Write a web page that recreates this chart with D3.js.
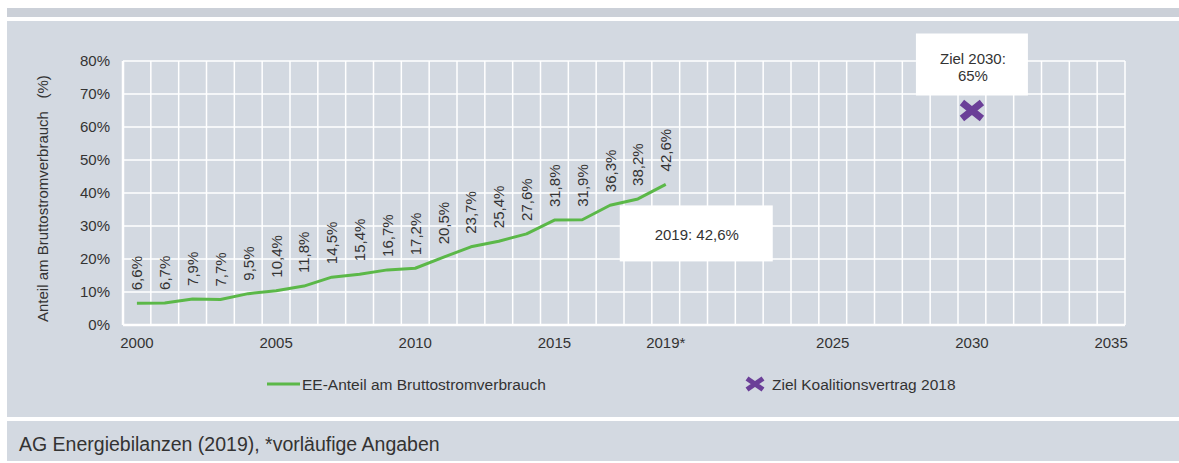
<!DOCTYPE html>
<html lang="de">
<head>
<meta charset="utf-8"/>
<title>EE-Anteil am Bruttostromverbrauch</title>
<script src="https://d3js.org/d3.v7.min.js"></script>
<style>
  body { margin: 0; background: #fff; }
  svg text { font-family: "Liberation Sans", Arial, sans-serif; fill: #333; }
  .axis .domain { display: none; }
  .axis line { display: none; }
</style>
</head>
<body>
<div id="chart"></div>
<script>
// data
var years = d3.range(2000, 2036);
var dataYears = [2000, 2001, 2002, 2003, 2004, 2005, 2006, 2007, 2008, 2009,
                 2010, 2011, 2012, 2013, 2014, 2015, 2016, 2017, 2018, 2019];
var eeShare = [6.6, 6.7, 7.9, 7.7, 9.5, 10.4, 11.8, 14.5, 15.4, 16.7,
               17.2, 20.5, 23.7, 25.4, 27.6, 31.8, 31.9, 36.3, 38.2, 42.6];
var targetYear = 2030, targetValue = 65;
var xTickYears = [2000, 2005, 2010, 2015, 2019, 2025, 2030, 2035];
var xTickLabels = ["2000", "2005", "2010", "2015", "2019*", "2025", "2030", "2035"];
var yTicks = [0, 10, 20, 30, 40, 50, 60, 70, 80];

var width = 1179, height = 463;
var panelBg = "#d3d9e1";
var green = "#5bb848", purple = "#6b3f98";
var fs = 15;

var svg = d3.select("#chart").append("svg")
    .attr("width", width)
    .attr("height", height);

// panels
svg.append("rect").attr("x", 7).attr("y", 8).attr("width", width - 7).attr("height", 9).attr("fill", "#cbd0d8");
svg.append("rect").attr("x", 7).attr("y", 21).attr("width", width - 7).attr("height", 396).attr("fill", panelBg);
svg.append("rect").attr("x", 7).attr("y", 421).attr("width", width - 7).attr("height", 40).attr("fill", panelBg);

var x = d3.scaleBand().domain(years).range([123, 1125]);
var y = d3.scaleLinear().domain([0, 80]).range([325, 61]);
var cx = function(yr) { return x(yr) + x.bandwidth() / 2; };

// grid
var grid = svg.append("g").attr("stroke", "#fff");
grid.selectAll("line.h")
    .data(yTicks)
    .enter().append("line")
      .attr("x1", x.range()[0]).attr("x2", x.range()[1])
      .attr("y1", function(d) { return y(d); }).attr("y2", function(d) { return y(d); })
      .attr("stroke-width", function(d) { return d === 0 ? 2.5 : 1.5; });
grid.selectAll("line.v")
    .data(years.concat([2036]))
    .enter().append("line")
      .attr("x1", function(d) { return d === 2036 ? x.range()[1] : x(d); })
      .attr("x2", function(d) { return d === 2036 ? x.range()[1] : x(d); })
      .attr("y1", y(0)).attr("y2", y(80))
      .attr("stroke-width", function(d) { return d === 2000 ? 2.5 : 1.5; });

// axes
svg.append("g")
    .attr("class", "axis")
    .attr("transform", "translate(0," + y(0) + ")")
    .call(d3.axisBottom(x).tickValues(xTickYears).tickSize(0).tickPadding(12)
      .tickFormat(function(d) { return xTickLabels[xTickYears.indexOf(d)]; }))
    .selectAll("text")
      .attr("font-size", fs)
      .attr("font-family", null);

svg.append("g")
    .attr("class", "axis")
    .attr("transform", "translate(" + x.range()[0] + ",0)")
    .call(d3.axisLeft(y).tickValues(yTicks).tickSize(0).tickPadding(13)
      .tickFormat(function(d) { return d + "%"; }))
    .selectAll("text")
      .attr("font-size", fs)
      .attr("font-family", null);

svg.append("text")
    .attr("transform", "translate(48," + 322 + ") rotate(-90)")
    .attr("font-size", fs)
    .attr("text-anchor", "start")
    .style("white-space", "pre")
    .text("Anteil am Bruttostromverbrauch   (%)");

// line
var series = dataYears.map(function(d, i) { return {year: d, value: eeShare[i]}; });
svg.append("path")
    .datum(series)
    .attr("fill", "none")
    .attr("stroke", green)
    .attr("stroke-width", 3)
    .attr("stroke-linejoin", "round")
    .attr("d", d3.line()
      .x(function(d) { return cx(d.year); })
      .y(function(d) { return y(d.value); }));

// value labels
svg.append("g")
  .selectAll("text")
  .data(series)
  .enter().append("text")
    .attr("transform", function(d) {
      return "translate(" + (cx(d.year) + 5.5) + "," + (y(d.value) - 13) + ") rotate(-90)";
    })
    .attr("font-size", fs)
    .text(function(d) { return String(d.value).replace(".", ",") + "%"; });

// annotation 2019
var lastX = cx(2019), lastY = y(42.6);
svg.append("rect")
    .attr("x", lastX - 46).attr("y", lastY + 21)
    .attr("width", 153).attr("height", 56)
    .attr("fill", "#fff");
svg.append("text")
    .attr("x", lastX + 31).attr("y", lastY + 55.5)
    .attr("text-anchor", "middle")
    .attr("font-size", fs)
    .text("2019: 42,6%");

// target marker
var tx = cx(targetYear), ty = y(targetValue);
svg.append("rect")
    .attr("x", tx - 56).attr("y", ty - 77)
    .attr("width", 112).attr("height", 62)
    .attr("fill", "#fff");
svg.append("text")
    .attr("x", tx + 1).attr("y", ty - 47)
    .attr("text-anchor", "middle")
    .attr("font-size", fs)
    .text("Ziel 2030:");
svg.append("text")
    .attr("x", tx + 1).attr("y", ty - 30)
    .attr("text-anchor", "middle")
    .attr("font-size", fs)
    .text("65%");

function cross(g, px, py, w, h, sw) {
  g.append("path")
    .attr("d", "M" + (px - w) + "," + (py - h) + "L" + (px + w) + "," + (py + h) +
               "M" + (px - w) + "," + (py + h) + "L" + (px + w) + "," + (py - h))
    .attr("stroke", purple)
    .attr("stroke-width", sw)
    .attr("fill", "none");
}
cross(svg, tx, ty, 10, 8, 7);

// legend
var legend = svg.append("g");
legend.append("line")
    .attr("x1", 267).attr("x2", 300)
    .attr("y1", 384).attr("y2", 384)
    .attr("stroke", green).attr("stroke-width", 3);
legend.append("text")
    .attr("x", 302).attr("y", 389.5)
    .attr("font-size", 15.5)
    .text("EE-Anteil am Bruttostromverbrauch");
cross(legend, 755, 384, 8, 5.5, 5);
legend.append("text")
    .attr("x", 772).attr("y", 389.5)
    .attr("font-size", 15.5)
    .text("Ziel Koalitionsvertrag 2018");

// footer
svg.append("text")
    .attr("x", 19).attr("y", 450.5)
    .attr("font-size", 19.5)
    .attr("fill", "#222")
    .text("AG Energiebilanzen (2019), *vorläufige Angaben");
</script>
</body>
</html>
